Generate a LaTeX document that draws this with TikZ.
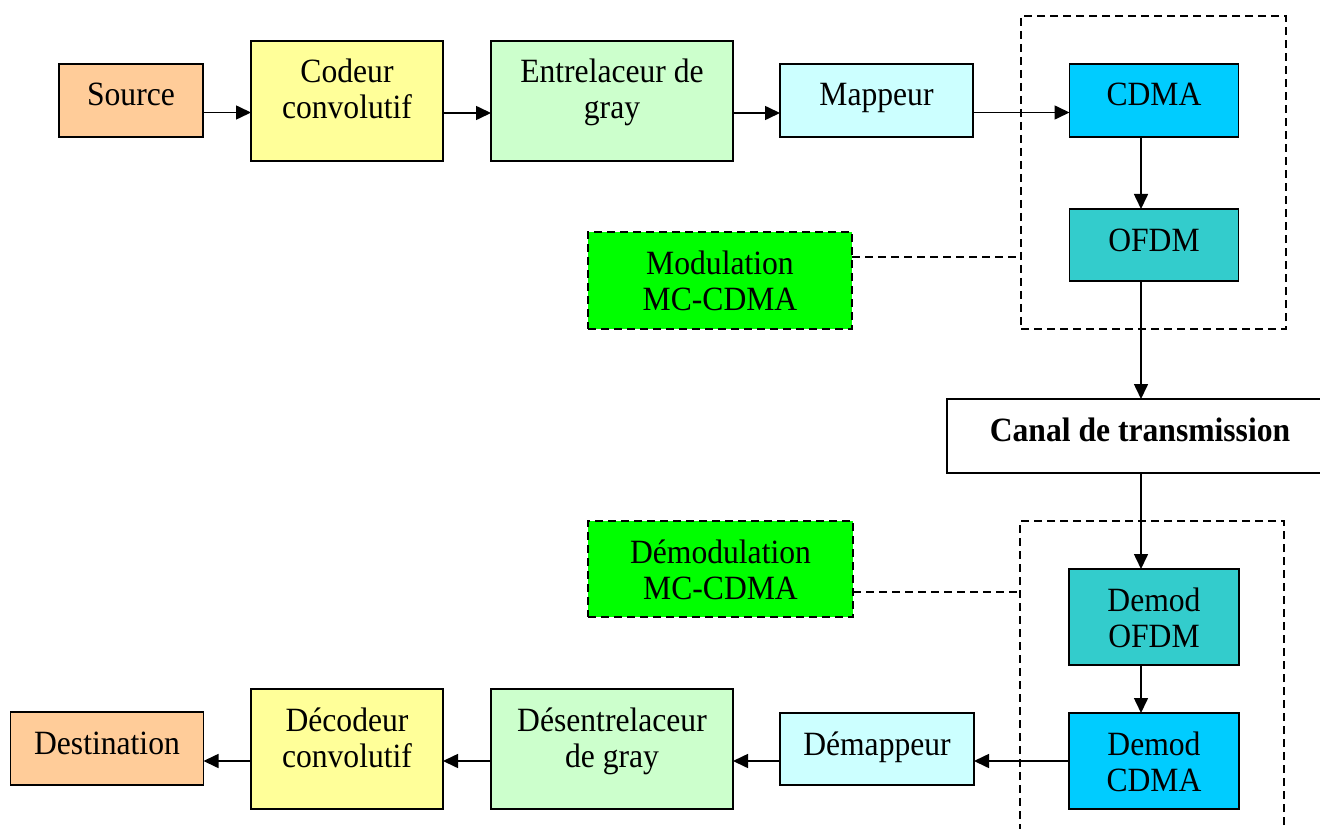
\documentclass[tikz,border=0pt]{standalone}
\usepackage{fontspec}
\setmainfont{Liberation Serif}[FakeStretch=0.93]
\usetikzlibrary{arrows.meta,calc}
\definecolor{cSrc}{HTML}{FFCC99}
\definecolor{cCod}{HTML}{FFFF99}
\definecolor{cEnt}{HTML}{CCFFCC}
\definecolor{cMap}{HTML}{CCFFFF}
\definecolor{cCdma}{HTML}{00CCFF}
\definecolor{cOfdm}{HTML}{33CCCC}
\definecolor{cMod}{HTML}{00FF00}
\newcommand\bt[3]{\parbox[c][#2pt][t]{#1pt}{\centering\rule{0pt}{42pt}#3\par}}
\begin{document}
\begin{tikzpicture}[x=1pt,y=-1pt,
  every node/.style={font=\fontsize{34}{36}\selectfont},
  blk/.style={draw=black,line width=1.6pt,inner sep=0pt,outer sep=0pt},
  modbox/.style={blk,fill=cMod,dash pattern=on 8pt off 5pt},
  grp/.style={draw=black,line width=1.6pt,dash pattern=on 8pt off 5pt,inner sep=0pt,outer sep=0pt},
  arr/.style={line width=1.6pt,-{Triangle[length=15pt,width=14pt]}},
  dsh/.style={line width=1.6pt,dash pattern=on 8pt off 5pt}]
\useasboundingbox (0,0) rectangle (1320,829);
\clip (0,0) rectangle (1320,829);
% groups
\node[grp,minimum width=265pt,minimum height=313pt] (g1) at (1153.5,172.5) {};
\node[grp,minimum width=264pt,minimum height=339pt] (g2) at (1152,690.5) {};
% top chain
\node[blk,fill=cSrc] (src) at (131,100.5) {\bt{144}{73}{Source}};
\node[blk,fill=cCod] (cod) at (347,101) {\bt{192}{120}{Codeur\\convolutif}};
\node[blk,fill=cEnt] (ent) at (612,101) {\bt{242}{120}{Entrelaceur de\\gray}};
\node[blk,fill=cMap] (map) at (876.5,100.5) {\bt{193}{73}{Mappeur}};
\node[blk,fill=cCdma] (cdma) at (1154,100.5) {\bt{169}{73}{CDMA}};
\node[blk,fill=cOfdm] (ofdm) at (1154,245) {\bt{169}{72}{OFDM}};
\node[modbox] (mod) at (720,280.5) {\bt{264}{97}{Modulation\\MC-CDMA}};
% channel
\node[blk,fill=white] (canal) at (1140,436) {\bt{386}{74}{\textbf{Canal de transmission}}};
% bottom chain
\node[modbox] (demod) at (720.5,569) {\bt{265}{96}{Démodulation\\MC-CDMA}};
\node[blk,fill=cOfdm] (dofdm) at (1154,617) {\bt{170}{96}{Demod\\OFDM}};
\node[blk,fill=cCdma] (dcdma) at (1154,761) {\bt{170}{96}{Demod\\CDMA}};
\node[blk,fill=cMap] (dmap) at (877,749) {\bt{194}{72}{Démappeur}};
\node[blk,fill=cEnt] (dent) at (612,749) {\bt{242}{120}{Désentrelaceur\\de gray}};
\node[blk,fill=cCod] (dcod) at (347,749) {\bt{192}{120}{Décodeur\\convolutif}};
\node[blk,fill=cSrc] (dst) at (107,748.5) {\bt{193}{73}{Destination}};
% arrows top
\draw[arr] ([yshift=-12pt]src.east) -- ([yshift=-12pt]src.east -| cod.west);
\draw[arr] ([yshift=-12pt]cod.east) -- ([yshift=-12pt]cod.east -| ent.west);
\draw[arr] ([yshift=-12pt]ent.east) -- ([yshift=-12pt]ent.east -| map.west);
\draw[arr] ([yshift=-12pt]map.east) -- ([yshift=-12pt]map.east -| cdma.west);
\draw[arr] ([xshift=-13pt]cdma.south) -- ([xshift=-13pt]ofdm.north);
\draw[arr] ([xshift=-13pt]ofdm.south) -- ([xshift=-13pt]ofdm.south |- canal.north);
\draw[arr] ([xshift=-13pt]ofdm.south |- canal.south) -- ([xshift=-13pt]dofdm.north);
\draw[arr] ([xshift=-13pt]dofdm.south) -- ([xshift=-13pt]dcdma.north);
% arrows bottom
\draw[arr] (dcdma.west) -- (dcdma.west -| dmap.east);
\draw[arr] (dmap.west |- dcdma.west) -- (dcdma.west -| dent.east);
\draw[arr] (dent.west |- dcdma.west) -- (dcdma.west -| dcod.east);
\draw[arr] (dcod.west |- dcdma.west) -- (dcdma.west -| dst.east);
% dashed connectors
\coordinate (m1) at ([yshift=23.5pt]mod.east);
\draw[dsh] (m1) -- (m1 -| g1.west);
\coordinate (m2) at ([yshift=-23pt]demod.east);
\draw[dsh] (m2) -- (m2 -| g2.west);
\end{tikzpicture}
\end{document}
